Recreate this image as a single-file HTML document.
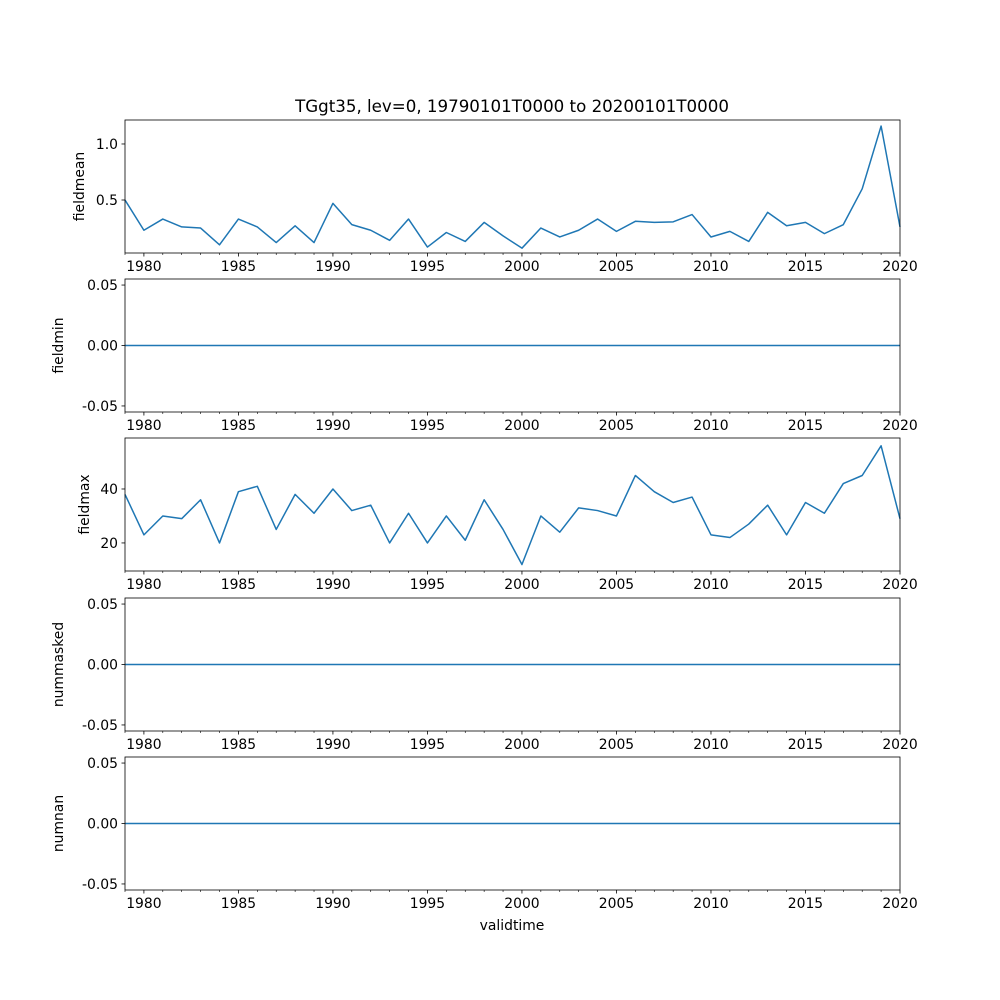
<!DOCTYPE html>
<html><head><meta charset="utf-8"><style>
body{margin:0;background:#fff;}
svg{display:block;font-family:"DejaVu Sans","Liberation Sans",sans-serif;}
</style></head><body>
<svg id="chart" width="1000" height="1000" viewBox="0 0 1000 1000">
<rect width="1000" height="1000" fill="#fff"/>
<text x="512" y="112" font-size="16.67" text-anchor="middle">TGgt35, lev=0, 19790101T0000 to 20200101T0000</text>
<text x="512" y="930" font-size="13.9" text-anchor="middle">validtime</text>
</svg>
<script>
const years = [1979,1980,1981,1982,1983,1984,1985,1986,1987,1988,1989,1990,1991,1992,1993,1994,1995,1996,1997,1998,1999,2000,2001,2002,2003,2004,2005,2006,2007,2008,2009,2010,2011,2012,2013,2014,2015,2016,2017,2018,2019,2020];
const fieldmean = [0.50,0.23,0.33,0.26,0.25,0.10,0.33,0.26,0.12,0.27,0.12,0.47,0.28,0.23,0.14,0.33,0.08,0.21,0.13,0.30,0.18,0.07,0.25,0.17,0.23,0.33,0.22,0.31,0.30,0.305,0.37,0.17,0.22,0.13,0.39,0.27,0.30,0.20,0.28,0.60,1.16,0.26];
const fieldmin = years.map(()=>0);
const fieldmax = [38,23,30,29,36,20,39,41,25,38,31,40,32,34,20,31,20,30,21,36,25,12,30,24,33,32,30,45,39,35,37,23,22,27,34,23,35,31,42,45,56,29];
const nummasked = years.map(()=>0);
const numnan = years.map(()=>0);
const xTicks = [1980,1985,1990,1995,2000,2005,2010,2015,2020];

const NS="http://www.w3.org/2000/svg";
const svg=document.getElementById('chart');
function el(t,a,p){const e=document.createElementNS(NS,t);for(const k in a)e.setAttribute(k,a[k]);(p||svg).appendChild(e);return e;}
const X0=125,X1=900;
const xs=y=>X0+(y-1979)/(2020-1979)*(X1-X0);

const panels=[
 {name:'fieldmean',data:fieldmean,top:120,bot:253,lo:0.027,hi:1.214,ticks:[0.5,1.0],fmt:v=>v.toFixed(1),lx:84},
 {name:'fieldmin',data:fieldmin,top:279,bot:412,lo:-0.055,hi:0.055,ticks:[-0.05,0,0.05],fmt:v=>v.toFixed(2),lx:63},
 {name:'fieldmax',data:fieldmax,top:438,bot:571,lo:9.6,hi:58.9,ticks:[20,40],fmt:v=>String(v),lx:89},
 {name:'nummasked',data:nummasked,top:598,bot:731,lo:-0.055,hi:0.055,ticks:[-0.05,0,0.05],fmt:v=>v.toFixed(2),lx:63},
 {name:'numnan',data:numnan,top:757,bot:890,lo:-0.055,hi:0.055,ticks:[-0.05,0,0.05],fmt:v=>v.toFixed(2),lx:63}
];
panels.forEach(p=>{
 const g=el('g',{});
 
 
 const ys=v=>p.bot-(v-p.lo)/(p.hi-p.lo)*(p.bot-p.top);
 const pts=p.data.map((v,i)=>xs(years[i]).toFixed(2)+','+ys(v).toFixed(2)).join(' ');
 const line=el('polyline',{points:pts,fill:'none',stroke:'#1f77b4','stroke-width':1.5,'stroke-linejoin':'round'},g);
 
 
 const fr=el('rect',{x:X0,y:p.top,width:X1-X0,height:p.bot-p.top,fill:'none',stroke:'#000','stroke-width':0.8},g);
 
 
 for(let y=1979;y<=2020;y++){
  const major=xTicks.includes(y);
  el('line',{x1:xs(y),x2:xs(y),y1:p.bot,y2:p.bot+(major?3.5:2),stroke:'#000','stroke-width':major?0.8:0.6},g);
 }
 xTicks.forEach(y=>{
  const t=el('text',{x:xs(y),y:p.bot+18,'font-size':13.9,'text-anchor':'middle'},g);
  t.textContent=y;
  
  
 });
 p.ticks.forEach(v=>{
  const yy=ys(v);
  el('line',{x1:X0-3.5,x2:X0,y1:yy,y2:yy,stroke:'#000','stroke-width':0.8},g);
  const t=el('text',{x:X0-7,y:yy+5,'font-size':13.9,'text-anchor':'end'},g);
  t.textContent=p.fmt(v);
  
  
 });
 const cy=(p.top+p.bot)/2;
 const yl=el('text',{x:p.lx,y:cy,'font-size':13.9,'text-anchor':'middle',transform:`rotate(-90 ${p.lx} ${cy})`},g);
 yl.textContent=p.name;
 
 
});
</script>
</body></html>
